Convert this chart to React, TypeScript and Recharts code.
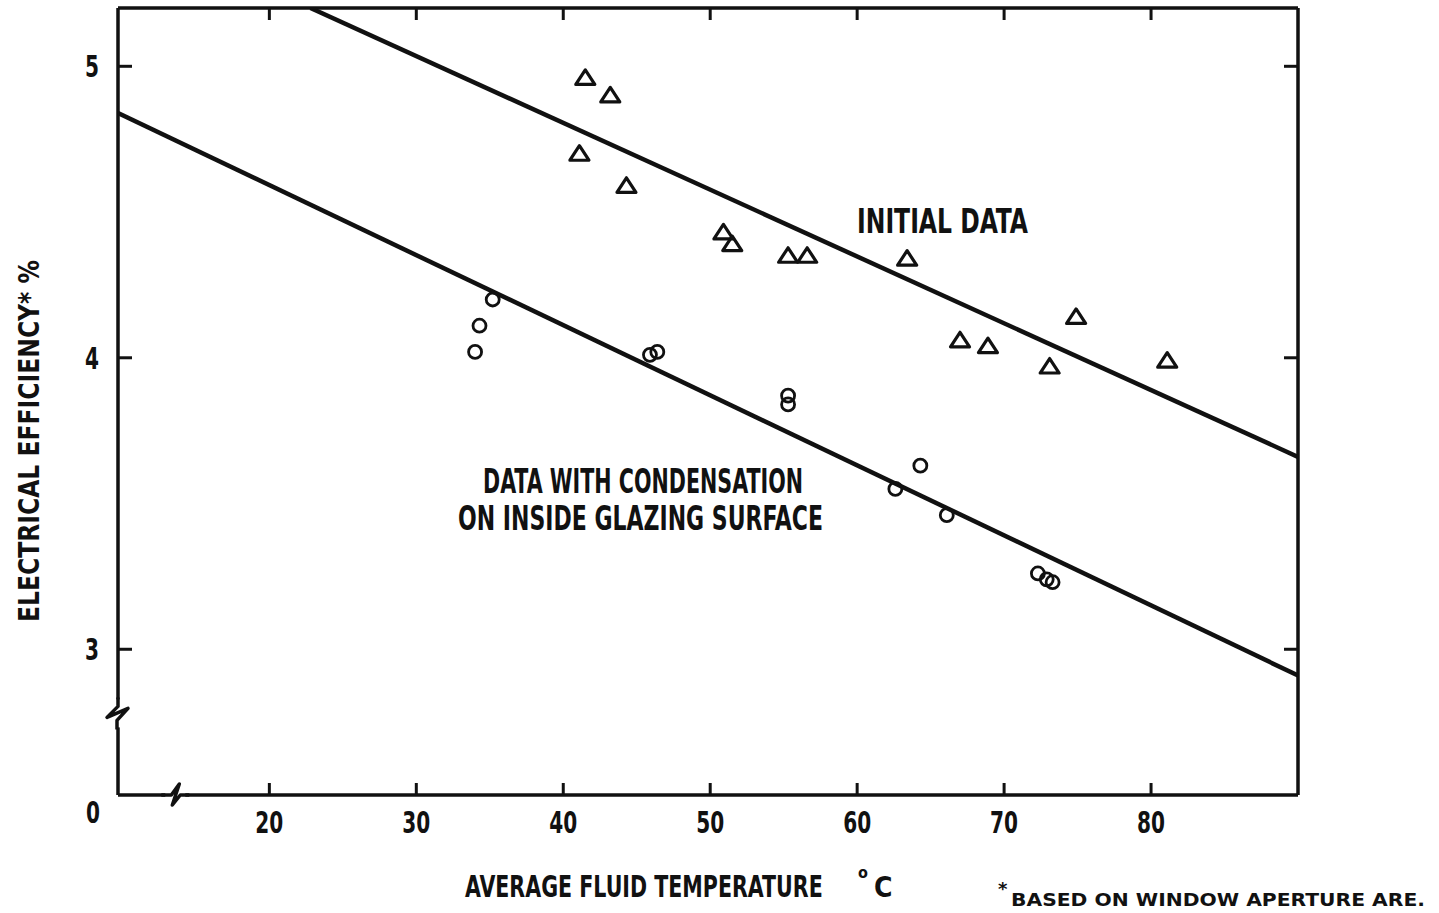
import { ComposedChart, Scatter, Line, XAxis, YAxis, ReferenceDot } from "recharts";

// axis ticks
const xTicks = [20, 30, 40, 50, 60, 70, 80];
const yTicks = [2.5, 3, 4, 5]; // 2.5 sits on the broken axis and is labelled "0"
const rightTicks = [3, 4, 5];

// initial data (triangles)
const initialTemp = [41.5, 43.2, 41.1, 44.3, 50.9, 51.5, 55.3, 56.6, 63.4, 67.0, 68.9, 73.1, 74.9, 81.1];
const initialEff = [4.96, 4.9, 4.7, 4.59, 4.43, 4.39, 4.35, 4.35, 4.34, 4.06, 4.04, 3.97, 4.14, 3.99];

// data with condensation on inside glazing surface (circles)
const condTemp = [35.2, 34.3, 34.0, 45.9, 46.4, 55.3, 55.3, 62.6, 64.3, 66.1, 72.3, 72.9, 73.3];
const condEff = [4.2, 4.11, 4.02, 4.01, 4.02, 3.87, 3.84, 3.55, 3.63, 3.46, 3.26, 3.24, 3.23];

// fitted lines
const initialFitTemp = [22.8, 90];
const initialFitEff = [5.2, 3.66];
const condFitTemp = [9.7, 90];
const condFitEff = [4.84, 2.91];

const zip = (xs: number[], ys: number[]) => xs.map((x, i) => ({ x, y: ys[i] }));

const initialData = zip(initialTemp, initialEff);
const condData = zip(condTemp, condEff);
const initialFit = zip(initialFitTemp, initialFitEff);
const condFit = zip(condFitTemp, condFitEff);

const INK = "#111";
const FONT = "'Liberation Sans Narrow', 'DejaVu Sans Condensed', 'Liberation Sans', Arial, sans-serif";

const Digits = ({ x, y, anchor, value }: { x: number; y: number; anchor: string; value: string }) => (
  <text
    x={x}
    y={y}
    textAnchor={anchor}
    fontFamily={FONT}
    fontWeight="bold"
    fontSize={30}
    fill={INK}
    textLength={value.length * 14}
    lengthAdjust="spacingAndGlyphs"
  >
    {value}
  </text>
);

const BottomTick = (props: any) => {
  const { x, y, payload } = props;
  return (
    <g>
      <line x1={x} y1={y} x2={x} y2={y - 12} stroke={INK} strokeWidth={3} />
      <Digits x={x} y={y + 38} anchor="middle" value={String(payload.value)} />
    </g>
  );
};

const TopTick = (props: any) => {
  const { x, y } = props;
  return <line x1={x} y1={y} x2={x} y2={y + 12} stroke={INK} strokeWidth={3} />;
};

const LeftTick = (props: any) => {
  const { x, y, payload } = props;
  if (payload.value === 2.5) {
    return <Digits x={x - 18} y={y + 28} anchor="end" value="0" />;
  }
  return (
    <g>
      <line x1={x} y1={y} x2={x + 14} y2={y} stroke={INK} strokeWidth={3} />
      <Digits x={x - 19} y={y + 11} anchor="end" value={String(payload.value)} />
    </g>
  );
};

const RightTick = (props: any) => {
  const { x, y } = props;
  return <line x1={x} y1={y} x2={x - 14} y2={y} stroke={INK} strokeWidth={3} />;
};

const Triangle = (props: any) => {
  const { cx, cy } = props;
  return (
    <polygon
      points={`${cx},${cy - 8} ${cx + 9.5},${cy + 6.5} ${cx - 9.5},${cy + 6.5}`}
      fill="none"
      stroke={INK}
      strokeWidth={3.2}
      strokeLinejoin="round"
    />
  );
};

const Ring = (props: any) => {
  const { cx, cy } = props;
  return <circle cx={cx} cy={cy} r={6.5} fill="none" stroke={INK} strokeWidth={2.8} />;
};

// axis break marks
const VBreak = (props: any) => {
  const { cx, cy } = props;
  return (
    <g>
      <rect x={cx - 5} y={cy - 14} width={10} height={28} fill="#fff" />
      <path
        d={`M${cx},${cy - 16} L${cx},${cy - 7} L${cx - 11},${cy + 4} L${cx + 10},${cy - 5} L${cx - 1},${cy + 7} L${cx - 1},${cy + 16}`}
        fill="none"
        stroke={INK}
        strokeWidth={3.5}
        strokeLinejoin="round"
      />
    </g>
  );
};

const HBreak = (props: any) => {
  const { cx, cy } = props;
  return (
    <g>
      <rect x={cx - 10} y={cy - 4} width={20} height={8} fill="#fff" />
      <path
        d={`M${cx - 14},${cy} L${cx - 4},${cy} L${cx + 4},${cy - 11} L${cx - 3},${cy + 10} L${cx + 5},${cy} L${cx + 14},${cy}`}
        fill="none"
        stroke={INK}
        strokeWidth={3.5}
        strokeLinejoin="round"
      />
    </g>
  );
};

export default function App() {
  return (
    <div style={{ position: "fixed", left: 0, top: 0, width: 1439, height: 913, background: "#fff" }}>
      <ComposedChart width={1439} height={913} margin={{ top: 6, right: 139, bottom: 0, left: 0 }}>
        <XAxis
          xAxisId="b"
          type="number"
          dataKey="x"
          domain={[9.7, 90]}
          ticks={xTicks}
          height={118}
          allowDataOverflow
          tickLine={false}
          tickSize={0}
          tickMargin={0}
          axisLine={{ stroke: INK, strokeWidth: 3.5 }}
          tick={<BottomTick />}
        />
        <XAxis
          xAxisId="t"
          orientation="top"
          type="number"
          dataKey="x"
          domain={[9.7, 90]}
          ticks={xTicks}
          height={2}
          allowDataOverflow
          tickLine={false}
          tickSize={0}
          tickMargin={0}
          axisLine={{ stroke: INK, strokeWidth: 3.5 }}
          tick={<TopTick />}
        />
        <YAxis
          yAxisId="l"
          type="number"
          dataKey="y"
          domain={[2.5, 5.2]}
          ticks={yTicks}
          width={118}
          allowDataOverflow
          tickLine={false}
          tickSize={0}
          tickMargin={0}
          axisLine={{ stroke: INK, strokeWidth: 3.5 }}
          tick={<LeftTick />}
        />
        <YAxis
          yAxisId="r"
          orientation="right"
          type="number"
          dataKey="y"
          domain={[2.5, 5.2]}
          ticks={rightTicks}
          width={2}
          allowDataOverflow
          tickLine={false}
          tickSize={0}
          tickMargin={0}
          axisLine={{ stroke: INK, strokeWidth: 3.5 }}
          tick={<RightTick />}
        />
        <Line xAxisId="b" yAxisId="l" data={initialFit} dataKey="y" stroke={INK} strokeWidth={4.5} dot={false} isAnimationActive={false} />
        <Line xAxisId="b" yAxisId="l" data={condFit} dataKey="y" stroke={INK} strokeWidth={4.5} dot={false} isAnimationActive={false} />
        <Scatter xAxisId="b" yAxisId="l" data={initialData} dataKey="y" shape={<Triangle />} isAnimationActive={false} />
        <Scatter xAxisId="b" yAxisId="l" data={condData} dataKey="y" shape={<Ring />} isAnimationActive={false} />
        <ReferenceDot xAxisId="b" yAxisId="l" x={9.7} y={2.78} shape={<VBreak />} ifOverflow="visible" />
        <ReferenceDot xAxisId="b" yAxisId="l" x={13.6} y={2.5} shape={<HBreak />} ifOverflow="visible" />
      </ComposedChart>
      <svg width={1439} height={913} style={{ position: "absolute", left: 0, top: 0, pointerEvents: "none" }}>
        <g fontFamily={FONT} fontWeight="bold" fill={INK}>
          <text x={857} y={233} fontSize={33} textLength={171} lengthAdjust="spacingAndGlyphs">INITIAL DATA</text>
          <text x={483} y={493} fontSize={33} textLength={320} lengthAdjust="spacingAndGlyphs">DATA WITH CONDENSATION</text>
          <text x={458} y={530} fontSize={33} textLength={365} lengthAdjust="spacingAndGlyphs">ON INSIDE GLAZING SURFACE</text>
          <text
            x={0}
            y={0}
            fontSize={30}
            transform="translate(465, 897) scale(0.7, 1)"
            textLength={511}
            lengthAdjust="spacingAndGlyphs"
          >
            AVERAGE FLUID TEMPERATURE
          </text>
          <text x={858} y={878} fontSize={16}>o</text>
          <text x={874} y={897} fontSize={28}>C</text>
          <text
            x={0}
            y={0}
            fontSize={28}
            textAnchor="middle"
            transform="translate(39, 441) rotate(-90)"
            textLength={362}
            lengthAdjust="spacingAndGlyphs"
          >
            ELECTRICAL EFFICIENCY* %
          </text>
        </g>
        <g fontFamily="'DejaVu Sans', sans-serif" fontWeight="bold" fill={INK}>
          <text x={998} y={895} fontSize={18}>*</text>
          <text x={1011} y={906} fontSize={18} textLength={414} lengthAdjust="spacingAndGlyphs">BASED ON WINDOW APERTURE ARE.</text>
        </g>
      </svg>
    </div>
  );
}
